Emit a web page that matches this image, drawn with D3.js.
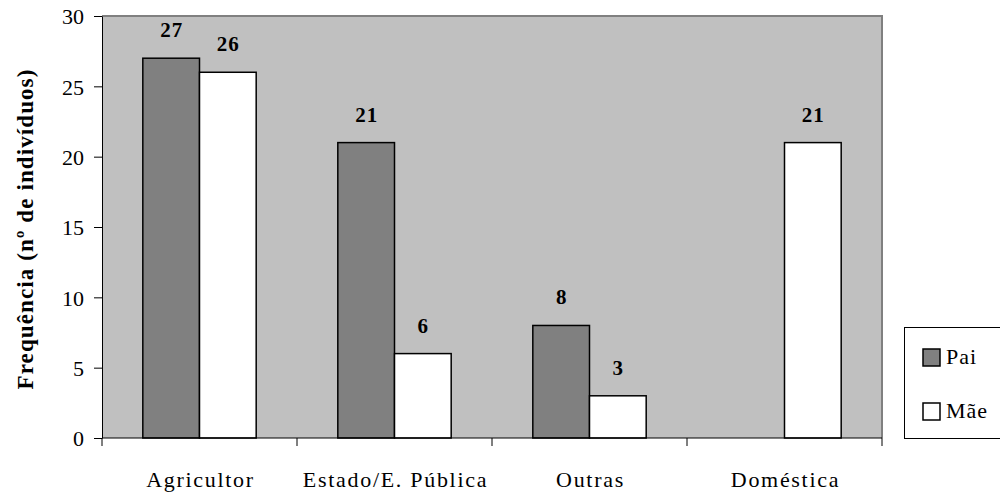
<!DOCTYPE html>
<html lang="pt">
<head>
<meta charset="utf-8">
<script src="https://d3js.org/d3.v7.min.js"></script>
<style>
  body { margin: 0; background: white; }
  svg { font-family: 'Liberation Serif', 'Times New Roman', serif; }
  .axis text { font-size: 22px; fill: black; }
  .axis path, .axis line { stroke: black; }
  .val { font-size: 21px; font-weight: bold; text-anchor: middle; letter-spacing: 1px; }
</style>
</head>
<body>
<svg width="1000" height="493"></svg>
<script>
const categories = ["Agricultor", "Estado/E. Pública", "Outras", "Doméstica"];
const series = ["Pai", "Mãe"];
const pai = [27, 21, 8, null];
const mae = [26, 6, 3, 21];
const yTicks = [0, 5, 10, 15, 20, 25, 30];
const colors = { "Pai": "#808080", "Mãe": "#ffffff" };

const svg = d3.select("svg");
const plotL = 102, plotR = 882, plotT = 16, plotB = 438;

const x = d3.scaleBand().domain(categories).range([plotL, plotR]).paddingInner(0).paddingOuter(0);
const inner = d3.scaleBand().domain(series).range([0, x.bandwidth()]).paddingInner(0).paddingOuter(0.72);
const y = d3.scaleLinear().domain([0, 30]).range([plotB, plotT]);

// plot area
svg.append("rect")
  .attr("x", plotL).attr("y", plotT)
  .attr("width", plotR - plotL).attr("height", plotB - plotT)
  .attr("fill", "#c0c0c0");
svg.append("path")
  .attr("d", `M${plotL},${plotT}H${plotR}V${plotB}`)
  .attr("fill", "none").attr("stroke", "#808080").attr("stroke-width", 2);

const rows = categories.map((c, i) => ({ cat: c, values: [{ s: "Pai", v: pai[i] }, { s: "Mãe", v: mae[i] }] }));

const groups = svg.append("g").selectAll("g").data(rows).join("g")
  .attr("transform", d => `translate(${x(d.cat)},0)`);

const bars = groups.selectAll("g.b").data(d => d.values.filter(v => v.v != null)).join("g").attr("class", "b");
bars.append("rect")
  .attr("x", d => inner(d.s))
  .attr("y", d => y(d.v))
  .attr("width", inner.bandwidth())
  .attr("height", d => y(0) - y(d.v))
  .attr("fill", d => colors[d.s])
  .attr("stroke", "black").attr("stroke-width", 1.5);
bars.append("text")
  .attr("class", "val")
  .attr("x", d => inner(d.s) + inner.bandwidth() / 2 + 0.5)
  .attr("y", d => y(d.v) - 21)
  .text(d => d.v);

// axes
svg.append("g").attr("class", "axis")
  .attr("transform", `translate(${plotL},0)`)
  .call(d3.axisLeft(y).tickValues(yTicks).tickSize(8).tickPadding(10).tickSizeOuter(0))
  .attr("font-family", null).attr("font-size", null)
  .call(g => g.selectAll("text").attr("dy", "0.35em"));

const xAxis = svg.append("g").attr("class", "axis")
  .attr("transform", `translate(0,${plotB})`);
xAxis.append("line").attr("x1", plotL).attr("x2", plotR).attr("stroke", "black");
xAxis.selectAll("line.t").data(categories.concat(["end"])).join("line")
  .attr("class", "t")
  .attr("x1", (d, i) => plotL + i * x.step()).attr("x2", (d, i) => plotL + i * x.step())
  .attr("y1", 0).attr("y2", 8).attr("stroke", "black");
xAxis.selectAll("text").data(categories).join("text")
  .attr("x", d => x(d) + x.bandwidth() / 2 + 1)
  .attr("y", 49)
  .attr("text-anchor", "middle")
  .attr("letter-spacing", "1.7px")
  .text(d => d);

// y title
svg.append("text")
  .attr("transform", `translate(33,${(plotT + plotB) / 2 + 2}) rotate(-90)`)
  .attr("text-anchor", "middle")
  .attr("font-size", 23).attr("font-weight", "bold")
  .attr("letter-spacing", "1.1px")
  .text("Frequência (nº de indivíduos)");

// legend
const lg = svg.append("g");
lg.append("rect").attr("x", 904.5).attr("y", 327.5).attr("width", 100).attr("height", 111)
  .attr("fill", "white").attr("stroke", "black");
const li = lg.selectAll("g").data(series).join("g")
  .attr("transform", (d, i) => `translate(923,${349 + i * 54})`);
li.append("rect").attr("width", 17).attr("height", 17)
  .attr("fill", d => colors[d]).attr("stroke", "black").attr("stroke-width", 1.5);
li.append("text").attr("x", 23).attr("y", 15).attr("font-size", 22)
  .attr("letter-spacing", "1px").text(d => d);
</script>
</body>
</html>
